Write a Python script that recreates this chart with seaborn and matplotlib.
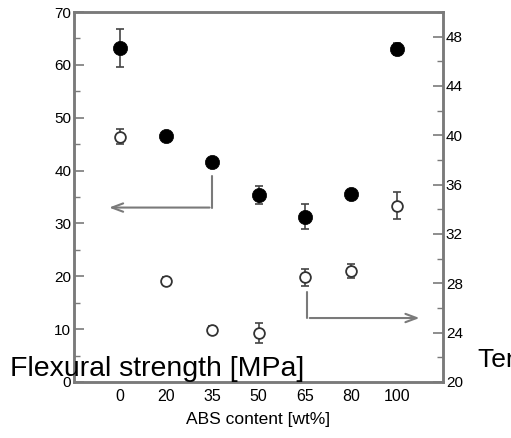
import numpy as np
import pandas as pd
import seaborn as sns
import matplotlib.pyplot as plt
from matplotlib.ticker import MultipleLocator

# data
abs_content = ["0", "20", "35", "50", "65", "80", "100"]
flexural = [63.2, 46.6, 41.7, 35.3, 31.3, 35.5, 63.0]
flexural_err = [3.6, 0.5, 0.6, 1.7, 2.4, 0.6, 1.2]
tensile = [39.9, 28.2, 24.2, 24.0, 28.5, 29.0, 34.3]
tensile_err = [0.6, 0.3, 0.3, 0.8, 0.7, 0.6, 1.1]

df = pd.DataFrame({"pos": np.arange(len(abs_content)), "label": abs_content,
                   "flex": flexural, "flex_err": flexural_err,
                   "tens": tensile, "tens_err": tensile_err})

sns.set_style("white")
plt.rcParams["font.family"] = ["Liberation Sans", "DejaVu Sans"]
plt.rcParams["text.color"] = "black"
plt.rcParams["axes.labelcolor"] = "black"

fig = plt.figure(figsize=(5.11, 4.38), dpi=100)
ax = fig.add_axes([0.1448, 0.1279, 0.7222, 0.8447])
ax2 = ax.twinx()

grey = "#7a7a7a"

# flexural strength (filled, left axis)
ax.errorbar(df["pos"], df["flex"], yerr=df["flex_err"], fmt="none",
            ecolor="#444444", elinewidth=1.2, capsize=3, capthick=1.2, zorder=2)
sns.scatterplot(data=df, x="pos", y="flex", ax=ax, color="black", s=105,
                edgecolor="black", linewidth=0.5, zorder=3, legend=False)

# tensile strength (open, right axis)
ax2.errorbar(df["pos"], df["tens"], yerr=df["tens_err"], fmt="none",
             ecolor="#444444", elinewidth=1.2, capsize=3, capthick=1.2, zorder=2)
sns.scatterplot(data=df, x="pos", y="tens", ax=ax2, facecolor="white", s=60,
                edgecolor="#333333", linewidth=1.3, zorder=3, legend=False)

# arrows pointing to the axis each series belongs to
ax.plot([2, 2], [39.0, 33.0], color=grey, lw=1.5)
ax.annotate("", xy=(-0.3, 33.0), xytext=(2, 33.0),
            arrowprops=dict(arrowstyle="->,head_length=0.8,head_width=0.3",
                            color=grey, lw=1.5))
ax.plot([4.05, 4.05], [17.0, 12.1], color=grey, lw=1.5)
ax.annotate("", xy=(6.55, 12.1), xytext=(4.05, 12.1),
            arrowprops=dict(arrowstyle="->,head_length=0.8,head_width=0.3",
                            color=grey, lw=1.5))

ax.set_xlim(-1, 7)
ax.set_ylim(0, 70)
ax2.set_ylim(20, 50)
ax.set_xticks(df["pos"])
ax.set_xticklabels(df["label"])
ax.yaxis.set_major_locator(MultipleLocator(10))
ax.yaxis.set_minor_locator(MultipleLocator(5))
ax2.yaxis.set_major_locator(MultipleLocator(4))
ax2.yaxis.set_minor_locator(MultipleLocator(2))

for a in (ax, ax2):
    for s in a.spines.values():
        s.set_color(grey)
        s.set_linewidth(1.8)
    a.tick_params(which="both", direction="in", color=grey, labelsize=11,
                  labelcolor="black", pad=2)
    a.tick_params(which="major", length=7, width=1.2)
    a.tick_params(which="minor", length=4, width=1.0)
ax.tick_params(axis="x", pad=5, labelsize=11.5)

ax.set_xlabel("ABS content [wt%]", fontsize=12.5, labelpad=6, color="black")
ax.set_ylabel("")
ax2.set_ylabel("")
ax.set_zorder(ax2.get_zorder() + 1)
ax.patch.set_visible(False)

fig.text(10 / 511, 1 - 376 / 438, "Flexural strength [MPa]", fontsize=20.5,
         va="baseline", ha="left", color="black")
fig.text(478 / 511, 1 - 367 / 438, "Tensile strength [MPa]", fontsize=19,
         va="baseline", ha="left", color="black")

fig.savefig("out.png", dpi=100)
